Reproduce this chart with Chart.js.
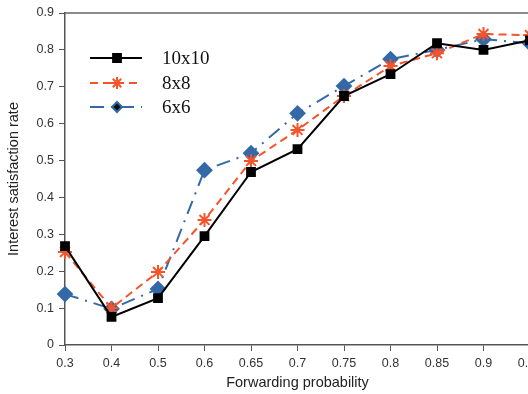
<!DOCTYPE html>
<html>
<head>
<meta charset="utf-8">
<script src="https://cdn.jsdelivr.net/npm/chart.js@4/dist/chart.umd.min.js"></script>
<style>
    html, body { margin: 0; padding: 0; background: #fff; overflow: hidden; }
    #wrap { width: 528px; height: 394px; overflow: hidden; }
    #box { width: 560px; height: 394px; }
</style>
</head>
<body>
<div id="wrap"><div id="box"><canvas id="grafico"></canvas></div></div>
<script>
const probabilidades = ['0.3', '0.4', '0.5', '0.6', '0.65', '0.7', '0.75', '0.8', '0.85', '0.9', '0.95']
const grade10 = [0.268, 0.076, 0.127, 0.295, 0.469, 0.531, 0.675, 0.734, 0.818, 0.800, 0.826]
const grade8 = [0.252, 0.100, 0.198, 0.339, 0.499, 0.583, 0.675, 0.756, 0.791, 0.843, 0.840]
const grade6 = [0.138, 0.098, 0.152, 0.474, 0.520, 0.628, 0.702, 0.775, 0.800, 0.829, 0.818]
const nomesSeries = ['10x10', '8x8', '6x6']

const fonteEixo = '"Liberation Sans", Arial, sans-serif'

// legenda desenhada dentro da area do grafico, como no original
const legendaInterna = {
    id: 'legendaInterna',
    afterDraw(chart) {
        const ctx = chart.ctx
        const area = chart.chartArea
        ctx.save()
        ctx.strokeStyle = '#666'
        ctx.lineWidth = 1.5
        ctx.beginPath()
        ctx.moveTo(area.left, area.top)
        ctx.lineTo(area.right, area.top)
        ctx.stroke()

        const linhasY = [58, 83, 107]
        chart.data.datasets.forEach((ds, i) => {
            const y = linhasY[i]
            ctx.strokeStyle = ds.borderColor
            ctx.lineWidth = ds.borderWidth
            ctx.setLineDash(ds.borderDash || [])
            ctx.beginPath()
            ctx.moveTo(90, y)
            ctx.lineTo(142, y)
            ctx.stroke()
            ctx.setLineDash([])
            Chart.helpers.drawPoint(ctx, {
                pointStyle: ds.pointStyle,
                radius: ds.legendRadius,
                borderWidth: ds.pointBorderWidth || 1
            }, 117, y)
            ctx.fillStyle = '#111'
            ctx.font = '19px "Liberation Serif", serif'
            ctx.textBaseline = 'middle'
            ctx.fillText(nomesSeries[i], 162, y + 1)
        })
        ctx.restore()
    }
}

new Chart(document.getElementById('grafico'), {
    type: 'line',
    data: {
        labels: probabilidades,
        datasets: [{
            label: nomesSeries[0],
            data: grade10,
            borderColor: '#000',
            backgroundColor: '#000',
            borderWidth: 2,
            pointStyle: 'rect',
            pointRadius: 5.5,
            legendRadius: 5.5,
            pointBorderColor: '#000',
            pointBackgroundColor: '#000',
            tension: 0
        }, {
            label: nomesSeries[1],
            data: grade8,
            borderColor: '#f4542c',
            backgroundColor: '#f4542c',
            borderWidth: 2,
            borderDash: [8, 5],
            pointStyle: 'star',
            pointRadius: 7,
            legendRadius: 6,
            pointBorderWidth: 2,
            pointBorderColor: '#f4542c',
            tension: 0
        }, {
            label: nomesSeries[2],
            data: grade6,
            borderColor: '#3469a8',
            backgroundColor: '#3469a8',
            borderWidth: 2,
            borderDash: [14, 7, 2, 7],
            pointStyle: 'rectRot',
            pointRadius: 7,
            legendRadius: 5,
            pointBorderColor: '#3469a8',
            pointBackgroundColor: '#3469a8',
            tension: 0
        }]
    },
    options: {
        responsive: true,
        maintainAspectRatio: false,
        animation: false,
        layout: { padding: { top: 13, right: 30, left: 5, bottom: 0 } },
        plugins: {
            legend: { display: false },
            tooltip: { enabled: false }
        },
        scales: {
            x: {
                offset: false,
                grid: { drawOnChartArea: false, tickLength: 6, color: '#555' },
                border: { color: '#555', width: 1.5 },
                ticks: { color: '#333', font: { family: fonteEixo, size: 12.5 }, padding: 5, maxRotation: 0, autoSkip: false },
                title: { display: true, text: 'Forwarding probability', color: '#222', font: { family: fonteEixo, size: 14.5 }, padding: { top: 0, bottom: 2 } },
                afterFit(scale) { scale.height = 49 }
            },
            y: {
                min: 0,
                max: 0.9,
                grid: { drawOnChartArea: false, tickLength: 6, color: '#555' },
                border: { color: '#555', width: 1.5 },
                ticks: { stepSize: 0.1, color: '#333', font: { family: fonteEixo, size: 12.5 }, padding: 5,
                    callback: v => Math.round(v * 10) / 10 === 0 ? '0' : (Math.round(v * 10) / 10).toString() },
                title: { display: true, text: 'Interest satisfaction rate', color: '#222', font: { family: fonteEixo, size: 14.5 }, padding: { top: 0, bottom: 6 } },
                afterFit(scale) { scale.width = 60 }
            }
        }
    },
    plugins: [legendaInterna]
})
</script>
</body>
</html>
